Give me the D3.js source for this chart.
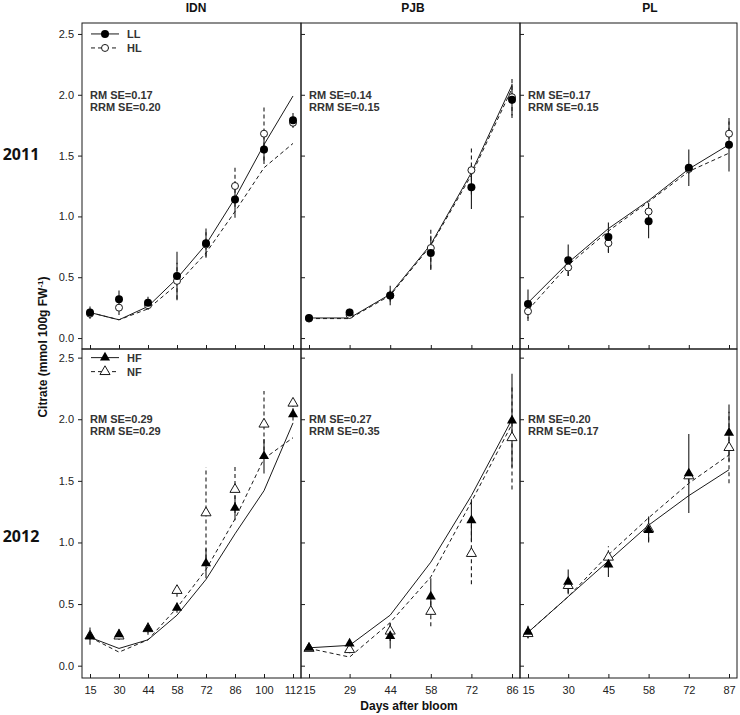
<!DOCTYPE html>
<html>
<head>
<meta charset="utf-8">
<script src="https://cdn.jsdelivr.net/npm/d3@7"></script>
<style>
  html, body { margin: 0; padding: 0; background: #fff; }
  svg { display: block; }
</style>
</head>
<body>
<svg id="chart" width="740" height="715"></svg>
<script>
// ---------- categories ----------
const cultivars = ["IDN", "PJB", "PL"];
const years = ["2011", "2012"];
const idnDays = [15, 30, 44, 58, 72, 86, 100, 112];
const pjbDays = [15, 29, 44, 58, 72, 86];
const plDays  = [15, 30, 45, 58, 72, 87];
const yTicks = [0.0, 0.5, 1.0, 1.5, 2.0, 2.5];
const seriesNames2011 = ["LL", "HL"];
const seriesNames2012 = ["HF", "NF"];

// ---------- 2011 : IDN ----------
const idn2011LLObs = [0.21, 0.32, 0.29, 0.51, 0.78, 1.14, 1.55, 1.79];
const idn2011LLErr = [0.05, 0.07, 0.05, 0.20, 0.12, 0.15, 0.12, 0.06];
const idn2011HLObs = [0.20, 0.25, 0.27, 0.47, 0.77, 1.25, 1.68, 1.77];
const idn2011HLErr = [0.04, 0.06, 0.04, 0.15, 0.10, 0.17, 0.22, 0.04];
const idn2011LLSim = [0.21, 0.15, 0.26, 0.49, 0.77, 1.15, 1.59, 1.99];
const idn2011HLSim = [0.21, 0.15, 0.24, 0.44, 0.70, 1.04, 1.40, 1.60];
// ---------- 2011 : PJB ----------
const pjb2011LLObs = [0.165, 0.21, 0.35, 0.70, 1.24, 1.96];
const pjb2011LLErr = [0.03, 0.03, 0.08, 0.14, 0.18, 0.13];
const pjb2011HLObs = [0.16, 0.19, 0.35, 0.74, 1.38, 1.98];
const pjb2011HLErr = [0.02, 0.02, 0.05, 0.17, 0.20, 0.17];
const pjb2011LLSim = [0.165, 0.165, 0.36, 0.77, 1.36, 2.08];
const pjb2011HLSim = [0.16, 0.16, 0.35, 0.76, 1.34, 2.05];
// ---------- 2011 : PL ----------
const pl2011LLObs = [0.28, 0.64, 0.83, 0.96, 1.40, 1.59];
const pl2011LLErr = [0.12, 0.13, 0.12, 0.14, 0.15, 0.22];
const pl2011HLObs = [0.22, 0.58, 0.78, 1.04, 1.39, 1.68];
const pl2011HLErr = [0.08, 0.07, 0.08, 0.07, 0.04, 0.10];
const pl2011LLSim = [0.29, 0.62, 0.90, 1.13, 1.39, 1.59];
const pl2011HLSim = [0.23, 0.60, 0.88, 1.12, 1.37, 1.52];

// ---------- 2012 : IDN ----------
const idn2012HFObs = [0.24, 0.255, 0.30, 0.47, 0.83, 1.28, 1.70, 2.04];
const idn2012HFErr = [0.07, 0.04, 0.05, 0.04, 0.12, 0.10, 0.14, 0.05];
const idn2012NFObs = [0.24, 0.24, 0.30, 0.61, 1.24, 1.43, 1.96, 2.13];
const idn2012NFErr = [0.03, 0.03, 0.03, 0.05, 0.37, 0.19, 0.27, 0.03];
const idn2012HFSim = [0.23, 0.14, 0.21, 0.41, 0.70, 1.07, 1.42, 1.97];
const idn2012NFSim = [0.23, 0.11, 0.21, 0.47, 0.78, 1.19, 1.68, 1.85];
// ---------- 2012 : PJB ----------
const pjb2012HFObs = [0.145, 0.18, 0.24, 0.56, 1.18, 1.99];
const pjb2012HFErr = [0.02, 0.03, 0.10, 0.15, 0.17, 0.38];
const pjb2012NFObs = [0.14, 0.13, 0.28, 0.44, 0.91, 1.85];
const pjb2012NFErr = [0.02, 0.03, 0.08, 0.12, 0.25, 0.42];
const pjb2012HFSim = [0.145, 0.165, 0.41, 0.84, 1.38, 2.00];
const pjb2012NFSim = [0.14, 0.07, 0.35, 0.72, 1.33, 1.96];
// ---------- 2012 : PL ----------
const pl2012HFObs = [0.275, 0.68, 0.82, 1.10, 1.56, 1.89];
const pl2012HFErr = [0.05, 0.10, 0.10, 0.10, 0.32, 0.23];
const pl2012NFObs = [0.26, 0.65, 0.88, 1.11, 1.54, 1.77];
const pl2012NFErr = [0.04, 0.06, 0.09, 0.10, 0.05, 0.29];
const pl2012HFSim = [0.27, 0.56, 0.85, 1.14, 1.38, 1.59];
const pl2012NFSim = [0.27, 0.56, 0.90, 1.20, 1.48, 1.71];

// ---------- statistics text ----------
const rmse2011  = ["0.17", "0.14", "0.17"];
const rrmse2011 = ["0.20", "0.15", "0.15"];
const rmse2012  = ["0.29", "0.27", "0.20"];
const rrmse2012 = ["0.29", "0.35", "0.17"];

// ---------- assemble ----------
const daysBy = [idnDays, pjbDays, plDays];
const panelData = [
  [ // 2011
    {a: idn2011LLObs, ae: idn2011LLErr, b: idn2011HLObs, be: idn2011HLErr, as: idn2011LLSim, bs: idn2011HLSim},
    {a: pjb2011LLObs, ae: pjb2011LLErr, b: pjb2011HLObs, be: pjb2011HLErr, as: pjb2011LLSim, bs: pjb2011HLSim},
    {a: pl2011LLObs,  ae: pl2011LLErr,  b: pl2011HLObs,  be: pl2011HLErr,  as: pl2011LLSim,  bs: pl2011HLSim}
  ],
  [ // 2012
    {a: idn2012HFObs, ae: idn2012HFErr, b: idn2012NFObs, be: idn2012NFErr, as: idn2012HFSim, bs: idn2012NFSim},
    {a: pjb2012HFObs, ae: pjb2012HFErr, b: pjb2012NFObs, be: pjb2012NFErr, as: pjb2012HFSim, bs: pjb2012NFSim},
    {a: pl2012HFObs,  ae: pl2012HFErr,  b: pl2012NFObs,  be: pl2012NFErr,  as: pl2012HFSim,  bs: pl2012NFSim}
  ]
];
const rmse = [rmse2011, rmse2012];
const rrmse = [rrmse2011, rrmse2012];
const legendNames = [seriesNames2011, seriesNames2012];

// ---------- layout ----------
const colX = [82, 301, 520, 737];
const rowY = [23, 349, 678];
const yDomains = [[-0.09, 2.59], [-0.1, 2.57]];
const yearLabelY = [156, 538];
const ink = "#1a1a1a";

const svg = d3.select("#chart");
const narrow = '"Liberation Sans Narrow", "Arial Narrow", "Liberation Sans", sans-serif';
const sans = '"Liberation Sans", Arial, sans-serif';

const triangle = d3.symbol().type(d3.symbolTriangle).size(44);

function yScale(r) {
  return d3.scaleLinear().domain(yDomains[r]).range([rowY[r + 1], rowY[r]]);
}
function xScale(c) {
  return d3.scalePoint().domain(daysBy[c]).range([colX[c] + 8, colX[c + 1] - 8]);
}

for (let r = 0; r < 2; r++) {
  const y = yScale(r);
  for (let c = 0; c < 3; c++) {
    const x = xScale(c);
    const days = daysBy[c];
    const d = panelData[r][c];
    const g = svg.append("g");

    // axes
    if (c === 0) {
      const ax = g.append("g").attr("transform", `translate(${colX[c]},0)`)
        .call(d3.axisLeft(y).tickValues(yTicks).tickSize(4).tickPadding(4).tickFormat(d3.format(".1f")));
      ax.select(".domain").remove();
      ax.selectAll("line").attr("stroke", ink);
      ax.selectAll("text").attr("font-family", narrow).attr("font-size", 11).attr("fill", "#222");
    } else {
      const ax = g.append("g").attr("transform", `translate(${colX[c]},0)`)
        .call(d3.axisRight(y).tickValues(yTicks).tickSize(4).tickFormat(""));
      ax.select(".domain").remove();
      ax.selectAll("line").attr("stroke", ink);
    }
    const xa = g.append("g").attr("transform", `translate(0,${rowY[r + 1]})`)
      .call(d3.axisTop(x).tickSize(4).tickFormat(""));
    xa.select(".domain").remove();
    xa.selectAll("line").attr("stroke", ink);
    if (r === 1) {
      const xl = g.append("g").attr("transform", `translate(0,${rowY[r + 1]})`)
        .call(d3.axisBottom(x).tickSize(0).tickPadding(8));
      xl.select(".domain").remove();
      xl.selectAll("text").attr("font-family", narrow).attr("font-size", 11).attr("fill", "#222");
    }

    // simulated lines
    const line = d3.line().x((v, i) => x(days[i])).y(v => y(v));
    g.append("path").datum(d.as).attr("d", line)
      .attr("fill", "none").attr("stroke", ink).attr("stroke-width", 1);
    g.append("path").datum(d.bs).attr("d", line)
      .attr("fill", "none").attr("stroke", ink).attr("stroke-width", 1).attr("stroke-dasharray", "4,3");

    // error bars
    g.selectAll(".eb").data(d.b).enter().append("line")
      .attr("x1", (v, i) => x(days[i])).attr("x2", (v, i) => x(days[i]))
      .attr("y1", (v, i) => y(v - d.be[i])).attr("y2", (v, i) => y(v + d.be[i]))
      .attr("stroke", ink).attr("stroke-width", 1.1).attr("stroke-dasharray", "4,3");
    g.selectAll(".ea").data(d.a).enter().append("line")
      .attr("x1", (v, i) => x(days[i])).attr("x2", (v, i) => x(days[i]))
      .attr("y1", (v, i) => y(v - d.ae[i])).attr("y2", (v, i) => y(v + d.ae[i]))
      .attr("stroke", ink).attr("stroke-width", 1.1);

    // markers
    if (r === 0) {
      g.selectAll(".mb").data(d.b).enter().append("circle")
        .attr("cx", (v, i) => x(days[i])).attr("cy", v => y(v)).attr("r", 3.5)
        .attr("fill", "#fff").attr("stroke", ink).attr("stroke-width", 1);
      g.selectAll(".ma").data(d.a).enter().append("circle")
        .attr("cx", (v, i) => x(days[i])).attr("cy", v => y(v)).attr("r", 4)
        .attr("fill", "#000");
    } else {
      g.selectAll(".mb").data(d.b).enter().append("path")
        .attr("d", triangle)
        .attr("transform", (v, i) => `translate(${x(days[i])},${y(v)})`)
        .attr("fill", "#fff").attr("stroke", ink).attr("stroke-width", 1);
      g.selectAll(".ma").data(d.a).enter().append("path")
        .attr("d", triangle)
        .attr("transform", (v, i) => `translate(${x(days[i])},${y(v)})`)
        .attr("fill", "#000");
    }

    // stats text
    const tx = colX[c] + 8;
    const ty = y(2.0);
    g.append("text").attr("x", tx).attr("y", ty + 4)
      .attr("font-family", narrow).attr("font-size", 11).attr("font-weight", "bold").attr("fill", "#333")
      .text("RM SE=" + rmse[r][c]);
    g.append("text").attr("x", tx).attr("y", ty + 16)
      .attr("font-family", narrow).attr("font-size", 11).attr("font-weight", "bold").attr("fill", "#333")
      .text("RRM SE=" + rrmse[r][c]);

    // frame
    g.append("rect").attr("x", colX[c]).attr("y", rowY[r])
      .attr("width", colX[c + 1] - colX[c]).attr("height", rowY[r + 1] - rowY[r])
      .attr("fill", "none").attr("stroke", ink).attr("stroke-width", 1);
  }

  // legend (first panel of row)
  const lg = svg.append("g");
  const names = legendNames[r];
  const ly = [y(2.5), y(2.5) + 14];
  [0, 1].forEach(k => {
    lg.append("line").attr("x1", 91).attr("x2", 119).attr("y1", ly[k]).attr("y2", ly[k])
      .attr("stroke", ink).attr("stroke-width", 1).attr("stroke-dasharray", k === 1 ? "4,3" : null);
    if (r === 0) {
      lg.append("circle").attr("cx", 105).attr("cy", ly[k]).attr("r", k === 0 ? 4 : 3.5)
        .attr("fill", k === 0 ? "#000" : "#fff").attr("stroke", ink).attr("stroke-width", k === 0 ? 0 : 1);
    } else {
      lg.append("path").attr("d", triangle).attr("transform", `translate(105,${ly[k]})`)
        .attr("fill", k === 0 ? "#000" : "#fff").attr("stroke", ink).attr("stroke-width", k === 0 ? 0 : 1);
    }
    lg.append("text").attr("x", 127).attr("y", ly[k] + 4)
      .attr("font-family", narrow).attr("font-size", 11).attr("font-weight", "bold").attr("fill", "#333")
      .text(names[k]);
  });

  // year label
  svg.append("text").attr("x", 21).attr("y", yearLabelY[r])
    .attr("text-anchor", "middle").attr("dominant-baseline", "middle")
    .attr("font-family", '"Open Sans", sans-serif').attr("font-size", 16).attr("font-weight", "bold")
    .attr("fill", "#111").text(years[r]);
}

// cultivar titles
const titleX = [196, 413, 650];
cultivars.forEach((t, i) => {
  svg.append("text").attr("x", titleX[i]).attr("y", 12)
    .attr("text-anchor", "middle").attr("font-family", sans).attr("font-size", 12)
    .attr("font-weight", "bold").attr("fill", "#111").text(t);
});

// axis titles
svg.append("text").attr("x", 409).attr("y", 710)
  .attr("text-anchor", "middle").attr("font-family", sans).attr("font-size", 12)
  .attr("font-weight", "bold").attr("fill", "#111").text("Days after bloom");

const yl = svg.append("text").attr("transform", "translate(47,347) rotate(-90)")
  .attr("text-anchor", "middle").attr("font-family", sans).attr("font-size", 12)
  .attr("font-weight", "bold").attr("fill", "#111");
yl.append("tspan").text("Citrate (mmol 100g FW");
yl.append("tspan").attr("dy", -4).attr("font-size", 8).text("-1");
yl.append("tspan").attr("dy", 4).text(")");
</script>
</body>
</html>
